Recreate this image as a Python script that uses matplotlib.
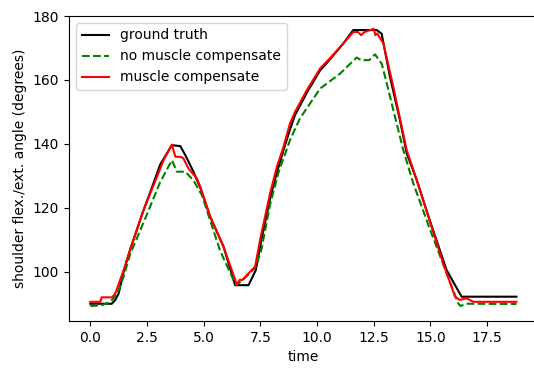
import matplotlib
matplotlib.use("Agg")
import matplotlib.pyplot as plt

# ground truth
gt_t = [0, 0.95, 1.1, 1.25, 1.47, 1.76, 2.35, 2.64, 3.08, 3.6, 3.97, 4.19, 4.55,
        4.85, 5.29, 5.88, 6.39, 6.98, 7.3, 7.55, 7.95, 8.23, 8.52, 8.81, 9.03,
        9.55, 10.14, 10.58, 11.16, 11.6, 12.63, 12.85, 13.22, 13.66, 13.96,
        14.4, 14.98, 15.72, 16.38, 18.8]
gt_y = [90, 90, 91.2, 93.2, 100, 107, 119.3, 124.8, 133.5, 139.6, 139.3, 136.5,
        131.3, 126.3, 117.2, 107.8, 95.8, 95.8, 100.5, 110, 123.5, 131, 138,
        144.5, 149, 156, 163, 166.5, 171.4, 175.6, 175.6, 174.5, 161, 147.4,
        137, 128.7, 116, 100.5, 92.2, 92.2]

# no muscle compensate
nm_t = [0, 0.5, 0.88, 1.18, 1.47, 1.76, 2.5, 3.08, 3.6, 3.82, 4.19, 4.55, 4.92,
        5.29, 5.73, 6.32, 6.45, 6.7, 7.0, 7.3, 7.55, 7.93, 8.3, 8.81, 9.25,
        10.14, 11.02, 11.75, 11.95, 12.3, 12.56, 12.86, 13.08, 13.37, 13.81,
        14.25, 15.0, 15.72, 16.23, 16.33, 16.6, 18.8]
nm_y = [89.3, 89.5, 90.6, 93, 98.5, 105.5, 118, 128, 134.9, 131.3, 131.3,
        128.6, 124, 116, 106.5, 97.4, 95.8, 97.3, 99.3, 101.5, 107, 121,
        131, 141.2, 148, 157.3, 162, 167, 166.2, 166.2, 168, 165, 158.9, 150.5,
        138, 127.6, 113, 99.5, 90.1, 89.3, 90, 89.9]

# muscle compensate
mc_t = [0, 0.44, 0.5, 0.96, 1.1, 1.47, 1.76, 2.35, 2.94, 3.23, 3.6, 3.75, 4.0,
        4.11, 4.33, 4.7, 4.85, 5.29, 5.88, 6.46, 6.6, 6.7, 6.98, 7.27, 7.49,
        7.93, 8.23, 8.52, 8.81, 9.03, 9.55, 10.14, 10.6, 11.16, 11.6, 11.8,
        11.95, 12.1, 12.5, 12.58, 12.66, 12.93, 13.37, 13.52, 13.96, 14.4,
        15.57, 16.09, 16.3, 16.6, 16.9, 18.8]
mc_y = [90.6, 90.6, 92, 92, 93.2, 100.5, 107, 119.3, 129.7, 134.9, 139.8, 136,
        135.9, 135.4, 132.3, 129.2, 126.6, 117.2, 107.8, 96.1, 97.5, 97.4,
        99.5, 101.6, 110, 124.5, 132.8, 139, 146.4, 150, 156.8, 163.6, 167,
        171.4, 175, 175, 174, 175, 176, 174, 174.5, 171.4, 157.8, 152.6, 138,
        128.7, 102.6, 92.2, 91.2, 91.7, 90.6, 90.6]

W, H = 534, 369
DPI = 100
fig = plt.figure(figsize=(W / DPI, H / DPI), dpi=DPI)
ax = fig.add_axes([69 / W, 1 - 321 / H, (538 - 69) / W, (321 - 16) / H])

ax.plot(gt_t, gt_y, color="k", lw=1.5, label="ground truth")
ax.plot(nm_t, nm_y, color="g", lw=1.5, ls="--", label="no muscle compensate")
ax.plot(mc_t, mc_y, color="r", lw=1.5, label="muscle compensate")

ax.set_xlim(-0.94, 19.75)
ax.set_ylim(84.6, 180)
ax.set_xticks([0, 2.5, 5, 7.5, 10, 12.5, 15, 17.5])
ax.set_yticks([100, 120, 140, 160, 180])
ax.set_xlabel("time")
ax.set_ylabel("shoulder flex./ext. angle (degrees)")
ax.legend(loc="upper left")

fig.savefig("out.png", dpi=DPI)
